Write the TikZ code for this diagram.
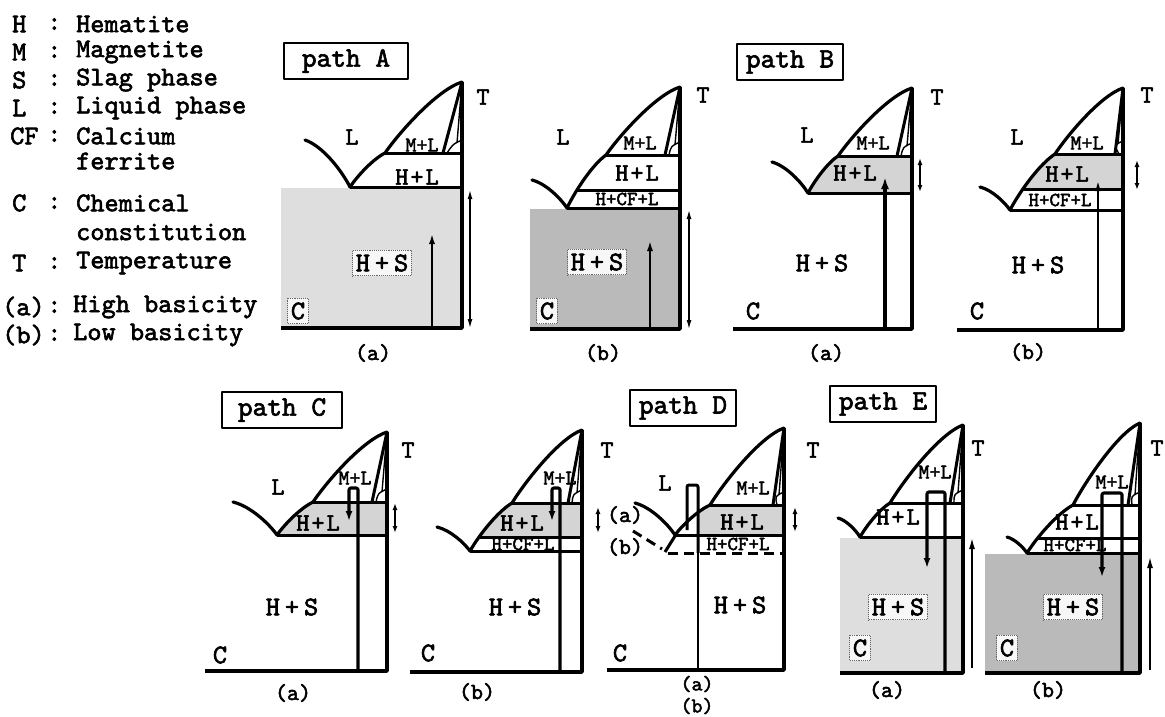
\documentclass[tikz,border=0pt]{standalone}
\usepackage{fontspec}
\usetikzlibrary{arrows.meta}
\newfontfamily\twf{lmmono10-regular.otf}[FakeBold=2.2]
\newcommand\tfs[1]{\twf\fontsize{#1}{#1}\selectfont}
% liquidus path: min (#1,#2), junction (#3,#4), apex (#5,#6)
\newcommand\setliq[6]{%
  \pgfmathsetmacro\Pax{#1+0.23*(#3-#1)}%
  \pgfmathsetmacro\Pay{#2+0.35*(#4-#2)}%
  \pgfmathsetmacro\Pbx{#3-0.34*(#3-#1)}%
  \pgfmathsetmacro\Pby{#4-0.18*(#4-#2)}%
  \pgfmathsetmacro\Pcx{#3+0.2*(#5-#3)}%
  \pgfmathsetmacro\Pcy{#4+0.31*(#6-#4)}%
  \pgfmathsetmacro\Pdx{#5-0.32*(#5-#3)}%
  \pgfmathsetmacro\Pdy{#6-0.11*(#6-#4)}%
  \def\liqpath{(#1,#2) .. controls (\Pax,\Pay) and (\Pbx,\Pby) .. (#3,#4) .. controls (\Pcx,\Pcy) and (\Pdx,\Pdy) .. (#5,#6)}%
}
% left liquidus branch: start (#1,#2) to min (#3,#4)
\newcommand\leftc[4]{%
  \pgfmathsetmacro\Lax{#1+0.4*(#3-#1)}%
  \pgfmathsetmacro\Lay{#2+0.13*(#4-#2)}%
  \pgfmathsetmacro\Lbx{#3-0.18*(#3-#1)}%
  \pgfmathsetmacro\Lby{#4-0.34*(#4-#2)}%
  \draw[curveln] (#1,#2) .. controls (\Lax,\Lay) and (\Lbx,\Lby) .. (#3,#4);%
}
% solidus: apex (#1,#2) to (#3,#4)
\newcommand\solidus[4]{%
  \draw[phln] (#1,#2) -- (#3,#4);
  \draw[thinln] (#1,#2) -- (#1-5,#4-10);
  \draw[thinln] (#3+4,#4) .. controls (#1-9,#4-9) .. (#1,#4-13);
}
\tikzset{
  axisln/.style={line width=3.8pt},
  curveln/.style={line width=3.2pt, line cap=round},
  phln/.style={line width=3pt},
  thinln/.style={line width=1.4pt},
  dashln/.style={line width=3pt, dash pattern=on 10pt off 6pt},
  lightfill/.style={fill=black!13},
  darkfill/.style={fill=black!27},
  hlfill/.style={fill=black!17},
  pathln/.style={line width=3.2pt, rounded corners=2pt, -{Latex[length=10pt,width=7pt]}},
  uparr/.style={line width=2.4pt, -{Latex[length=11pt,width=6pt]}},
  bigarr/.style={line width=3.6pt, -{Latex[length=12pt,width=8pt]}},
  darr/.style={line width=1.3pt, {Latex[length=9pt,width=5pt]}-{Latex[length=9pt,width=5pt]}},
  sdarr/.style={line width=2.4pt, {Latex[length=7pt,width=5pt]}-{Latex[length=7pt,width=5pt]}},
  lab/.style={inner sep=0pt, font=\tfs{25}},
  hs/.style={inner sep=0pt, font=\tfs{27}},
  ml/.style={inner sep=0pt, font=\tfs{21}},
  cfl/.style={inner sep=0pt, font=\tfs{20}},
  sub/.style={inner sep=0pt, font=\tfs{23}},
  subs/.style={inner sep=0pt, font=\tfs{21}},
  knock/.style={draw=black!60, densely dotted, line width=0.9pt, fill=black!3, inner xsep=3pt, inner ysep=4pt},
  pbox/.style={draw, line width=1.6pt, font=\tfs{28}, minimum height=36pt, inner xsep=9pt},
  leg/.style={anchor=west, inner sep=0pt, font=\tfs{27}},
}
\newcommand\HS{H\kern5pt+\kern5pt S}
\newcommand\HL{H\kern2pt+\kern2pt L}
\begin{document}
\begin{tikzpicture}[x=1pt,y=-1pt,line join=round]
\useasboundingbox (0,0) rectangle (1165,716);

% ================= legend
\node[leg] (kH) at (12,24) {H};   \node[leg] (cH) at (47,24) {:};  \node[leg] (dH) at (76,24) {Hematite};
\node[leg] (kM) at (12,52) {M};   \node[leg] (cM) at (47,52) {:};  \node[leg] (dM) at (76,52) {Magnetite};
\node[leg] (kS) at (12,80) {S};   \node[leg] (cS) at (47,80) {:};  \node[leg] (dS) at (76,80) {Slag phase};
\node[leg] (kL) at (12,108) {L};  \node[leg] (cL) at (47,108) {:}; \node[leg] (dL) at (76,108) {Liquid phase};
\node[leg] (kCF) at (10,136) {CF};\node[leg] (cCF) at (47,136) {:};\node[leg] (dCF) at (76,136) {Calcium};
\node[leg] (dCF2) at (76,161) {ferrite};
\node[leg] (kC) at (12,203) {C};  \node[leg] (cC) at (47,203) {:}; \node[leg] (dC) at (76,203) {Chemical};
\node[leg] (dC2) at (76,232) {constitution};
\node[leg] (kT) at (12,263) {T};  \node[leg] (cT) at (47,263) {:}; \node[leg] (dT) at (76,263) {Temperature};
\node[leg] (ka) at (2,307) {(a)}; \node[leg] (ca) at (47,307) {:}; \node[leg] (da) at (73,307) {High basicity};
\node[leg] (kb) at (2,335) {(b)}; \node[leg] (cb) at (47,335) {:}; \node[leg] (db) at (73,335) {Low basicity};

% ================= path A (a)
\fill[lightfill] (281,188) rectangle (462,328);
\setliq{350}{187}{385}{153}{462}{82}
\begin{scope}
  \clip \liqpath -- (462,330) -- (350,330) -- cycle;
  \draw[phln] (280,153) -- (462,153);
  \draw[phln] (280,187) -- (462,187);
\end{scope}
\draw[curveln] \liqpath;
\leftc{305}{140}{350}{187}
\solidus{462}{82}{443}{153}
\draw[axisln] (281,328) -- (462,328) -- (462,82);
\draw[uparr] (432,328) -- (432,233);
\draw[darr] (470,190) -- (470,328);
\node[pbox, minimum width=124pt] (boxA) at (346,61) {path A};
\node[lab] (Aa-L) at (352,137) {L};
\node[ml] (Aa-ML) at (422,145) {M+L};
\node[lab] (Aa-HL) at (417,177) {\HL};
\node[hs, knock] (Aa-HS) at (382,263) {\HS};
\node[hs, knock] (Aa-C) at (298,311) {C};
\node[lab] (Aa-T) at (483,97) {T};
\node[sub] (Aa-sub) at (373,353) {(a)};

% ================= path A (b)
\fill[darkfill] (530,209) rectangle (680,329);
\setliq{567}{208}{606}{155}{680}{87}
\begin{scope}
  \clip \liqpath -- (680,331) -- (567,331) -- cycle;
  \draw[phln] (500,155) -- (680,155);
  \draw[phln] (500,190) -- (680,190);
  \draw[phln] (500,208) -- (680,208);
\end{scope}
\draw[curveln] \liqpath;
\leftc{532}{180}{567}{208}
\solidus{680}{87}{665}{155}
\draw[axisln] (530,329) -- (680,329) -- (680,87);
\draw[uparr] (650,329) -- (650,240);
\draw[darr] (689,210) -- (689,329);
\node[lab] (Ab-L) at (563,137) {L};
\node[ml] (Ab-ML) at (640,143) {M+L};
\node[lab] (Ab-HL) at (637,173) {\HL};
\node[cfl] (Ab-CF) at (627,199) {H+CF+L};
\node[hs, knock] (Ab-HS) at (597,262) {\HS};
\node[hs, knock] (Ab-C) at (547,311) {C};
\node[lab] (Ab-T) at (703,95) {T};
\node[sub] (Ab-sub) at (603,353) {(b)};

% ================= path B (a)
\setliq{808}{193}{838}{156}{912}{88}
\begin{scope}
  \clip \liqpath -- (912,331) -- (808,331) -- cycle;
  \fill[hlfill] (780,156) rectangle (912,193);
  \draw[phln] (760,156) -- (912,156);
  \draw[phln] (760,193) -- (912,193);
\end{scope}
\draw[curveln] \liqpath;
\leftc{772}{162}{808}{193}
\solidus{912}{88}{897}{156}
\draw[axisln] (733,329) -- (912,329) -- (912,88);
\draw[bigarr] (885,329) -- (885,177);
\draw[sdarr] (920,158) -- (920,192);
\node[pbox] (boxB) at (790,62) {path B};
\node[lab] (Ba-L) at (807,135) {L};
\node[ml] (Ba-ML) at (873,143) {M+L};
\node[lab] (Ba-HL) at (855,173) {\HL};
\node[hs] (Ba-HS) at (822,263) {\HS};
\node[hs] (Ba-C) at (753,311) {C};
\node[lab] (Ba-T) at (937,97) {T};
\node[sub] (Ba-sub) at (826,353) {(a)};

% ================= path B (b)
\setliq{1010}{210}{1055}{154}{1123}{88}
\begin{scope}
  \clip \liqpath -- (1123,332) -- (1010,332) -- cycle;
  \fill[hlfill] (990,154) rectangle (1123,189);
  \draw[phln] (960,154) -- (1123,154);
  \draw[phln] (960,189) -- (1123,189);
  \draw[phln] (960,210) -- (1123,210);
\end{scope}
\draw[curveln] \liqpath;
\leftc{980}{187}{1010}{210}
\solidus{1123}{88}{1115}{154}
\draw[axisln] (957,330) -- (1123,330) -- (1123,88);
\draw[uparr] (1098,330) -- (1098,180);
\draw[sdarr] (1137,160) -- (1137,190);
\node[lab] (Bb-L) at (1017,137) {L};
\node[ml] (Bb-ML) at (1087,143) {M+L};
\node[lab] (Bb-HL) at (1067,174) {\HL};
\node[cfl] (Bb-CF) at (1060,200) {H+CF+L};
\node[hs] (Bb-HS) at (1038,265) {\HS};
\node[hs] (Bb-C) at (977,311) {C};
\node[lab] (Bb-T) at (1147,95) {T};
\node[sub] (Bb-sub) at (1028,352) {(b)};

% ================= path C (a)
\setliq{277}{535}{313}{502}{387}{432}
\begin{scope}
  \clip \liqpath -- (387,673) -- (277,673) -- cycle;
  \fill[hlfill] (250,502) rectangle (387,535);
  \draw[phln] (230,502) -- (387,502);
  \draw[phln] (230,535) -- (387,535);
\end{scope}
\draw[curveln] \liqpath;
\leftc{233}{502}{277}{535}
\solidus{387}{432}{372}{502}
\draw[axisln] (205,671) -- (387,671) -- (387,432);
\draw[pathln] (358,671) -- (358,488) -- (349,488) -- (349,521);
\draw[sdarr] (395,503) -- (395,533);
\node[pbox, minimum width=120pt] (boxC) at (282,410) {path C};
\node[lab] (Ca-L) at (278,487) {L};
\node[ml] (Ca-ML) at (355,478) {M+L};
\node[lab] (Ca-HL) at (318,523) {\HL};
\node[hs] (Ca-HS) at (292,607) {\HS};
\node[hs] (Ca-C) at (220,655) {C};
\node[lab] (Ca-T) at (408,450) {T};
\node[sub] (Ca-sub) at (293,693) {(a)};

% ================= path C (b)
\setliq{470}{551}{512}{503}{582}{430}
\begin{scope}
  \clip \liqpath -- (582,674) -- (470,674) -- cycle;
  \fill[hlfill] (440,503) rectangle (582,537);
  \draw[phln] (420,503) -- (582,503);
  \draw[phln] (420,537) -- (582,537);
  \draw[phln] (420,551) -- (582,551);
\end{scope}
\draw[curveln] \liqpath;
\leftc{437}{527}{470}{551}
\solidus{582}{430}{568}{503}
\draw[axisln] (410,672) -- (582,672) -- (582,430);
\draw[pathln] (560,672) -- (560,488) -- (552,488) -- (552,521);
\draw[sdarr] (598,507) -- (598,533);
\node[ml] (Cb-ML) at (560,478) {M+L};
\node[lab] (Cb-HL) at (522,523) {\HL};
\node[cfl] (Cb-CF) at (523,544) {H+CF+L};
\node[hs] (Cb-HS) at (515,607) {\HS};
\node[hs] (Cb-C) at (428,653) {C};
\node[lab] (Cb-T) at (607,450) {T};
\node[sub] (Cb-sub) at (477,692) {(b)};

% ================= path D
\setliq{675}{535}{710}{505}{784}{428}
\begin{scope}
  \clip \liqpath -- (784,672) -- (675,672) -- cycle;
  \fill[hlfill] (700,505) rectangle (784,535);
  \draw[phln] (650,505) -- (784,505);
  \draw[phln] (650,535) -- (784,535);
\end{scope}
\draw[curveln] \liqpath;
\leftc{635}{503}{675}{535}
\solidus{784}{428}{773}{505}
\draw[dashln] (633,531) -- (662,549);
\draw[phln] (665,552) -- (675,536);
\draw[dashln] (668,553) -- (784,553);
\draw[axisln] (607,670) -- (784,670) -- (784,428);
\draw[line width=1.8pt] (698,670) -- (698,553);
\draw[line width=3pt, rounded corners=2pt] (698,553) -- (698,485) -- (687,485) -- (687,530);
\draw[sdarr] (795,507) -- (795,532);
\node[pbox] (boxD) at (683,408) {path D};
\node[lab] (D-L) at (665,483) {L};
\node[ml] (D-ML) at (753,488) {M+L};
\node[lab] (D-HL) at (742,522) {\HL};
\node[cfl] (D-CF) at (738,544) {H+CF+L};
\node[hs] (D-HS) at (740,605) {\HS};
\node[hs] (D-C) at (620,653) {C};
\node[lab] (D-T) at (813,450) {T};
\node[sub] (D-la) at (625,515) {(a)};
\node[sub] (D-lb) at (625,547) {(b)};
\node[subs] (D-suba) at (697,684) {(a)};
\node[subs] (D-subb) at (697,706) {(b)};

% ================= path E (a)
\fill[lightfill] (840,538) rectangle (963,673);
\setliq{860}{537}{890}{503}{963}{425}
\begin{scope}
  \clip \liqpath -- (963,675) -- (860,675) -- cycle;
  \draw[phln] (830,503) -- (963,503);
  \draw[phln] (830,537) -- (963,537);
\end{scope}
\draw[curveln] \liqpath;
\leftc{838}{518}{860}{537}
\solidus{963}{425}{950}{503}
\draw[axisln] (840,673) -- (963,673) -- (963,425);
\draw[pathln] (945,673) -- (945,492) -- (927,492) -- (927,568);
\draw[uparr, line width=1.5pt] (972,668) -- (972,538);
\node[pbox] (boxE) at (883,404) {path E};
\node[ml] (Ea-ML) at (935,472) {M+L};
\node[lab] (Ea-HL) at (898,517) {\HL};
\node[hs, knock] (Ea-HS) at (898,607) {\HS};
\node[hs, knock] (Ea-C) at (860,648) {C};
\node[lab] (Ea-T) at (978,448) {T};
\node[sub] (Ea-sub) at (887,690) {(a)};

% ================= path E (b)
\fill[darkfill] (985,554) rectangle (1140,673);
\setliq{1027}{553}{1073}{505}{1140}{423}
\begin{scope}
  \clip \liqpath -- (1140,675) -- (1027,675) -- cycle;
  \draw[phln] (1000,505) -- (1140,505);
  \draw[phln] (1000,538) -- (1140,538);
  \draw[phln] (1000,553) -- (1140,553);
\end{scope}
\draw[curveln] \liqpath;
\leftc{1007}{537}{1027}{553}
\solidus{1140}{423}{1128}{505}
\draw[axisln] (985,673) -- (1140,673) -- (1140,423);
\draw[pathln] (1122,673) -- (1122,493) -- (1102,493) -- (1102,577);
\draw[uparr, line width=1.5pt] (1150,670) -- (1150,557);
\node[ml] (Eb-ML) at (1112,482) {M+L};
\node[lab] (Eb-HL) at (1077,522) {\HL};
\node[cfl] (Eb-CF) at (1075,545) {H+CF+L};
\node[hs, knock] (Eb-HS) at (1073,607) {\HS};
\node[hs, knock] (Eb-C) at (1007,648) {C};
\node[lab] (Eb-T) at (1157,448) {T};
\node[sub] (Eb-sub) at (1048,690) {(b)};
\end{tikzpicture}
\end{document}
